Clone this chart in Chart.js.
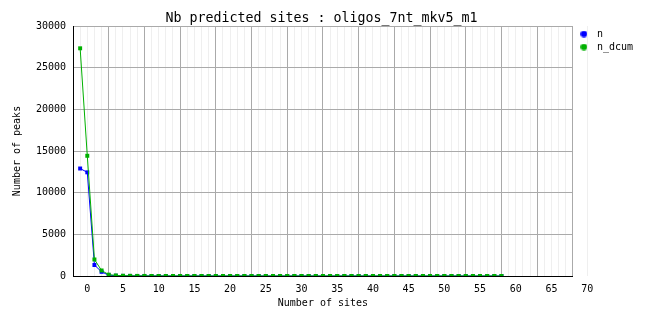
<!DOCTYPE html>
<html>
<head>
<meta charset="utf-8">
<script src="https://cdn.jsdelivr.net/npm/chart.js@4/dist/chart.umd.min.js"></script>
<style>
    html, body { margin: 0; padding: 0; background: #ffffff; }
    #wrap { width: 662px; height: 328px; }
</style>
</head>
<body>
<div id="wrap"><canvas id="chart" width="662" height="328"></canvas></div>
<script>
// values
const sites = [-1, 0, 1, 2, 3, 4, 5, 6, 7, 8, 9, 10, 11, 12, 13, 14, 15, 16, 17, 18, 19,
    20, 21, 22, 23, 24, 25, 26, 27, 28, 29, 30, 31, 32, 33, 34, 35, 36, 37, 38, 39,
    40, 41, 42, 43, 44, 45, 46, 47, 48, 49, 50, 51, 52, 53, 54, 55, 56, 57, 58];
const nValues = [12900, 12440, 1320, 500, 100, 35, 15, 10, 6, 4, 3, 2, 2, 1, 1, 1, 1, 0, 0, 0, 0,
    0, 0, 0, 0, 0, 0, 0, 0, 0, 0, 0, 0, 0, 0, 0, 0, 0, 0, 0, 0,
    0, 0, 0, 0, 0, 0, 0, 0, 0, 0, 0, 0, 0, 0, 0, 0, 0, 0, 0];
const nDcumValues = [27324, 14424, 1984, 664, 164, 64, 29, 19, 13, 9, 6, 4, 3, 2, 2, 1, 1, 0, 0, 0, 0,
    0, 0, 0, 0, 0, 0, 0, 0, 0, 0, 0, 0, 0, 0, 0, 0, 0, 0, 0, 0,
    0, 0, 0, 0, 0, 0, 0, 0, 0, 0, 0, 0, 0, 0, 0, 0, 0, 0, 0];
const seriesNames = ["n", "n_dcum"];
const seriesColors = ["#0000ff", "#00b000"];
const xTickValues = [0, 5, 10, 15, 20, 25, 30, 35, 40, 45, 50, 55, 60, 65, 70];
const yTickValues = [0, 5000, 10000, 15000, 20000, 25000, 30000];

const MONO = "'DejaVu Sans Mono', 'Liberation Mono', monospace";
Chart.defaults.font.family = MONO;
Chart.defaults.font.size = 10;
Chart.defaults.color = "#000000";

function makeDot(color) {
    const c = document.createElement("canvas");
    c.width = 7;
    c.height = 7;
    const g = c.getContext("2d");
    g.fillStyle = color;
    g.beginPath();
    g.arc(3.5, 3.5, 3.3, 0, Math.PI * 2);
    g.fill();
    return c;
}
const legendDots = seriesColors.map(makeDot);

function toPoints(values) {
    return values.map((v, i) => ({ x: sites[i], y: v }));
}

const datasets = [nValues, nDcumValues].map((values, i) => ({
    label: seriesNames[i],
    data: toPoints(values),
    borderColor: seriesColors[i],
    backgroundColor: seriesColors[i],
    borderWidth: 1,
    pointStyle: "rect",
    pointRadius: 2.8,
    pointBorderWidth: 0,
    pointHoverRadius: 2.8,
    tension: 0,
    order: 1 - i
}));

new Chart(document.getElementById("chart"), {
    type: "line",
    data: { datasets: datasets },
    options: {
        responsive: false,
        animation: false,
        events: [],
        layout: { padding: { left: 0, right: 19, top: 0, bottom: 0 } },
        scales: {
            x: {
                type: "linear",
                min: -2,
                max: 68,
                afterBuildTicks: function (scale) {
                    const ticks = [];
                    for (let v = -2; v <= 68; v++) {
                        ticks.push({ value: v });
                    }
                    ticks.push({ value: 70 });
                    scale.ticks = ticks;
                },
                afterFit: function (scale) { scale.height = 52; },
                ticks: {
                    autoSkip: false,
                    maxRotation: 0,
                    minRotation: 0,
                    padding: 7,
                    callback: function (value) {
                        return xTickValues.includes(value) ? String(value) : "";
                    }
                },
                grid: {
                    drawTicks: false,
                    color: function (ctx) {
                        if (!ctx.tick) return "#aaaaaa";
                        return (ctx.tick.value + 2) % 5 === 0 ? "#aaaaaa" : "#efefef";
                    }
                },
                border: { color: "#000000", width: 1 },
                title: {
                    display: true,
                    text: "Number of sites",
                    padding: 19
                }
            },
            y: {
                min: 0,
                max: 30000,
                afterBuildTicks: function (scale) {
                    scale.ticks = yTickValues.map(v => ({ value: v }));
                },
                afterFit: function (scale) { scale.width = 73; },
                ticks: {
                    padding: 7,
                    callback: function (value) { return String(value); }
                },
                grid: { drawTicks: false, color: "#aaaaaa" },
                border: { color: "#000000", width: 1 },
                title: {
                    display: true,
                    text: "Number of peaks",
                    padding: 11
                }
            }
        },
        plugins: {
            title: {
                display: true,
                text: "Nb predicted sites : oligos_7nt_mkv5_m1",
                color: "#000000",
                font: { size: 13.3, weight: "normal", lineHeight: 1 },
                padding: { top: 11.5, bottom: 1.2 }
            },
            legend: {
                position: "right",
                align: "start",
                fullSize: false,
                labels: {
                    usePointStyle: true,
                    pointStyleWidth: 16,
                    padding: 3,
                    font: { size: 10 },
                    sort: (a, b) => a.datasetIndex - b.datasetIndex,
                    generateLabels: function (chart) {
                        const items = Chart.defaults.plugins.legend.labels.generateLabels(chart);
                        items.forEach(item => { item.pointStyle = legendDots[item.datasetIndex]; });
                        return items;
                    }
                }
            },
            tooltip: { enabled: false }
        }
    }
});
</script>
</body>
</html>
